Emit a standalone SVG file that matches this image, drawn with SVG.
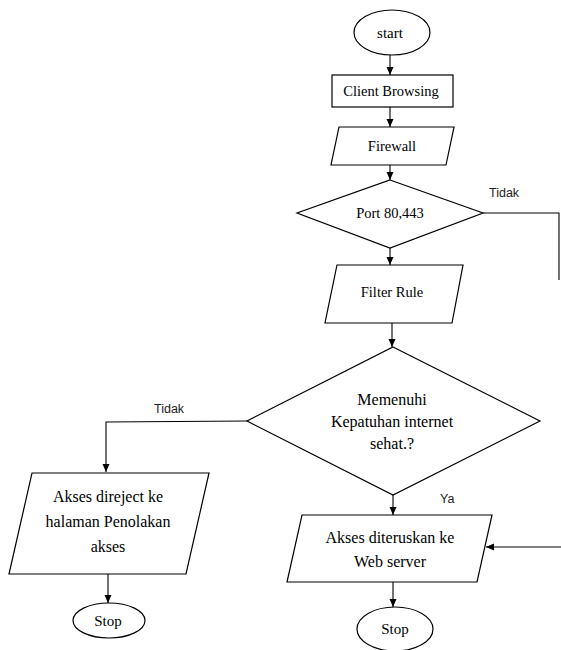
<svg xmlns="http://www.w3.org/2000/svg" width="561" height="650" viewBox="0 0 561 650">
<defs>
<marker id="arr" markerUnits="userSpaceOnUse" markerWidth="8" markerHeight="8" refX="8" refY="4" orient="auto">
<path d="M0,0.5 L8,4 L0,7.5 z" fill="#000"/>
</marker>
<style>
.shape{fill:#fff;stroke:#000;stroke-width:1.2}
.t{font-family:"Liberation Serif","Times New Roman",serif;fill:#000;text-anchor:middle}
.s{font-size:14.5px}
.m{font-size:16px}
.e{font-size:15px}
.lbl{font-family:"Liberation Sans",Arial,sans-serif;font-size:12.5px;fill:#222}
.c{fill:none;stroke:#000;stroke-width:1.1}
.ca{fill:none;stroke:#000;stroke-width:1.1;marker-end:url(#arr)}
</style>
</defs>
<rect width="561" height="650" fill="#fff"/>
<g id="start">
<ellipse class="shape" cx="392" cy="32.5" rx="38" ry="22.5"/>
<text class="t e" x="390" y="38">start</text>
</g>
<g id="client">
<rect class="shape" x="332" y="75" width="121" height="32"/>
<text class="t s" x="391" y="96">Client Browsing</text>
</g>
<g id="firewall">
<polygon class="shape" points="339,127 454,127 446,165 331,165"/>
<text class="t s" x="392" y="151">Firewall</text>
</g>
<g id="port">
<polygon class="shape" points="390,180 483,213 390,248 297,213"/>
<text class="t s" x="390" y="218">Port 80,443</text>
</g>
<g id="filter">
<polygon class="shape" points="337,265 463,265 452,323 325,323"/>
<text class="t s" x="392" y="297">Filter Rule</text>
</g>
<g id="kepatuhan">
<polygon class="shape" points="393,347 540,421 393,495 247,421"/>
<text class="t m" x="392" y="405">Memenuhi</text>
<text class="t m" x="392" y="427">Kepatuhan internet</text>
<text class="t m" x="392" y="449">sehat.?</text>
</g>
<g id="direject">
<polygon class="shape" points="32,473 209,473 186,574 9,574"/>
<text class="t m" x="108" y="502">Akses direject ke</text>
<text class="t m" x="108" y="527">halaman Penolakan</text>
<text class="t m" x="108" y="552">akses</text>
</g>
<g id="diteruskan">
<polygon class="shape" points="302,515 492,515 477,582 287,582"/>
<text class="t m" x="390" y="543">Akses diteruskan ke</text>
<text class="t m" x="390" y="567">Web server</text>
</g>
<g id="stop1">
<ellipse class="shape" cx="109" cy="620.5" rx="36" ry="17.5"/>
<text class="t e" x="108" y="626">Stop</text>
</g>
<g id="stop2">
<ellipse class="shape" cx="395" cy="629" rx="38" ry="22"/>
<text class="t e" x="395" y="634">Stop</text>
</g>
<g id="connectors">
<line class="ca" x1="390" y1="55" x2="390" y2="75"/>
<line class="ca" x1="390" y1="107" x2="390" y2="127"/>
<line class="ca" x1="390" y1="165" x2="390" y2="180"/>
<line class="ca" x1="390" y1="248" x2="390" y2="265"/>
<line class="ca" x1="392" y1="323" x2="392" y2="347"/>
<polyline class="c" points="483,213 559,213 559,280"/>
<polyline class="ca" points="247,421 106,422 106,472"/>
<line class="ca" x1="393" y1="495" x2="393" y2="515"/>
<line class="ca" x1="561" y1="547" x2="486" y2="547"/>
<line class="ca" x1="108" y1="574" x2="108" y2="603"/>
<line class="ca" x1="393" y1="582" x2="393" y2="607"/>
<text class="lbl" x="489" y="197">Tidak</text>
<text class="lbl" x="154" y="413">Tidak</text>
<text class="lbl" x="440" y="503">Ya</text>
</g>
</svg>
